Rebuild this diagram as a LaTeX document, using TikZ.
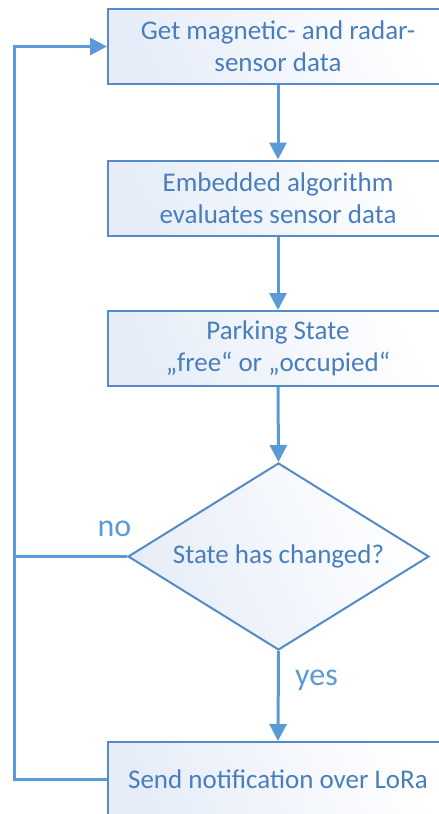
\documentclass[tikz,border=0pt]{standalone}
\usepackage{fontspec}
\setmainfont{Carlito}
\usetikzlibrary{shapes.geometric,arrows.meta}
\definecolor{linec}{RGB}{91,155,213}
\definecolor{borderc}{RGB}{84,138,199}
\definecolor{textc}{RGB}{74,126,187}
\definecolor{fillc}{RGB}{230,237,248}
\tikzset{
  gradfill/.style={top color=fillc, bottom color=white, shading angle=115},
  procbox/.style={draw=borderc, line width=2pt, rectangle, minimum width=340pt, minimum height=75pt,
    inner sep=0pt, align=center, text=textc, font=\fontsize{27}{32}\selectfont, gradfill},
  decbox/.style={draw=borderc, line width=2pt, diamond, aspect=1.61, minimum width=301pt, minimum height=187pt,
    inner sep=0pt, align=center, text=textc, font=\fontsize{27}{32}\selectfont, gradfill},
  conn/.style={draw=linec, line width=3pt, -{Triangle[length=17pt,width=17pt]}},
  plainconn/.style={draw=linec, line width=3pt},
  lbl/.style={text=linec, font=\fontsize{32}{38}\selectfont, anchor=base, inner sep=0pt}
}
\begin{document}
\begin{tikzpicture}[x=1pt,y=-1pt]
\clip (0,0) rectangle (439,814);
\node[procbox] (b1) at (278,46.5) {Get magnetic- and radar-\\sensor data};
\node[procbox] (b2) at (278,198) {Embedded algorithm\\evaluates sensor data};
\node[procbox] (b3) at (278,348.5) {Parking State\\„free“ or „occupied“};
\node[decbox] (d) at (278.5,556.5) {State has changed?};
\node[procbox] (b4) at (278,779.5) {Send notification over LoRa};
\coordinate (lb) at (14,779.5);
\coordinate (lt) at (14,46.5);
\coordinate (lm) at (14,556.5);
\draw[conn] (b1.south) -- (b2.north);
\draw[conn] (b2.south) -- (b3.north);
\draw[conn] (b3.south) -- (d.north);
\draw[conn] (d.south) -- (b4.north);
\draw[conn] (b4.west) -- (lb) -- (lt) -- (b1.west);
\draw[plainconn] (d.west) -- (lm);
\node[lbl] (no) at (114.5,536) {no};
\node[lbl] (yes) at (316.5,685) {yes};
\end{tikzpicture}
\end{document}
